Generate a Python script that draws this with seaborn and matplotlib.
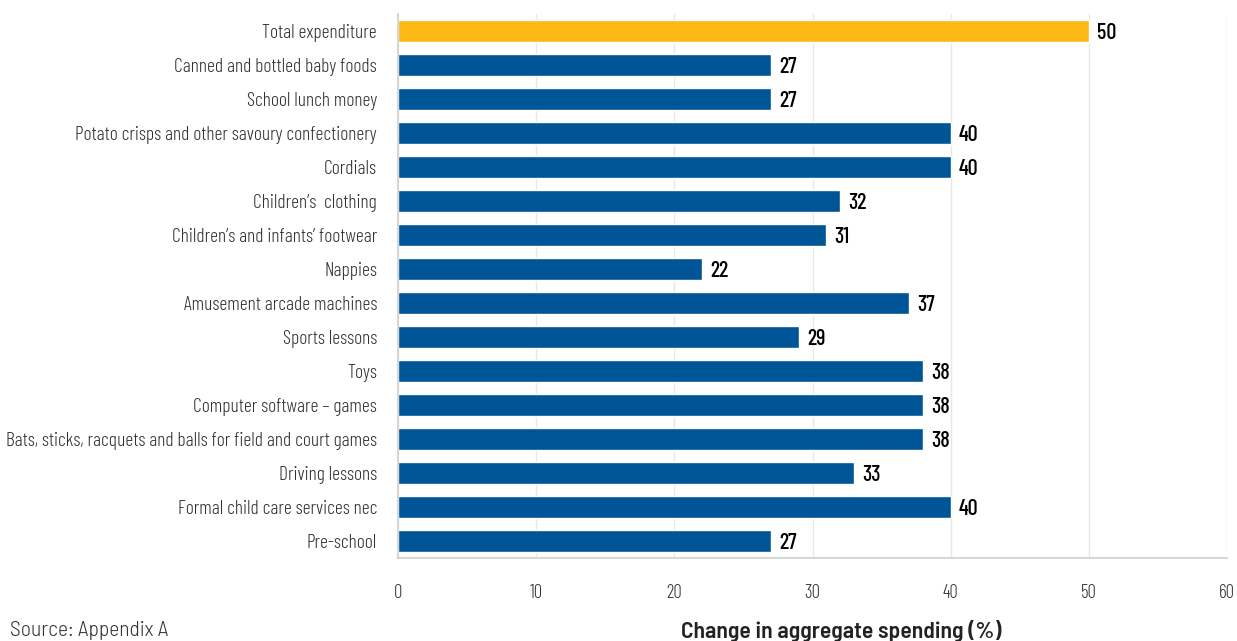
import matplotlib
matplotlib.use("Agg")
import matplotlib.pyplot as plt
import seaborn as sns
import pandas as pd

# data
categories = [
    "Total expenditure",
    "Canned and bottled baby foods",
    "School lunch money",
    "Potato crisps and other savoury confectionery",
    "Cordials",
    "Children’s  clothing",
    "Children’s and infants’ footwear",
    "Nappies",
    "Amusement arcade machines",
    "Sports lessons",
    "Toys",
    "Computer software – games",
    "Bats, sticks, racquets and balls for field and court games",
    "Driving lessons",
    "Formal child care services nec",
    "Pre-school",
]
values = [50, 27, 27, 40, 40, 32, 31, 22, 37, 29, 38, 38, 38, 33, 40, 27]
x_ticks = [0, 10, 20, 30, 40, 50, 60]

colors = ["#FDB913"] + ["#005596"] * (len(categories) - 1)

df = pd.DataFrame({"category": categories, "change": values})

sns.set_style("white")
plt.rcParams["font.family"] = ["Barlow Condensed", "DejaVu Sans"]

fig = plt.figure(figsize=(12.37, 6.41), dpi=100)
ax = fig.add_axes([0.3217, 0.1295, 0.6703, 0.8485])

sns.barplot(data=df, x="change", y="category", hue="category",
            palette=colors, legend=False, width=0.65, saturation=1, ax=ax)

# value labels
for i, v in enumerate(values):
    ax.text(v + 0.6, i + 0.06, str(v), va="center", ha="left",
            fontsize=16, fontweight=500, color="black")

ax.set_xlim(0, 60)
ax.set_xticks(x_ticks)
ax.set_ylim(len(categories) - 0.5, -0.5)
ax.grid(axis="x", color="#E8E8E8", linewidth=1)
ax.set_axisbelow(True)
for s in ["top", "right"]:
    ax.spines[s].set_visible(False)
for s in ["left", "bottom"]:
    ax.spines[s].set_color("#D0D0D0")
    ax.spines[s].set_linewidth(1.2)

ax.tick_params(axis="x", length=0, pad=19, labelsize=13.5, labelcolor="#333333")
ax.tick_params(axis="y", length=0, pad=15, labelsize=14.1, labelcolor="#333333")
for lab in ax.get_xticklabels() + ax.get_yticklabels():
    lab.set_fontweight(300)
ax.set_ylabel("")
ax.set_xlabel("")

fig.text(0.68, 0.016, "Change in aggregate spending (%)", ha="center", va="center",
         fontsize=17, fontweight=600, color="#222222",
         family=["Barlow Semi Condensed", "DejaVu Sans"])
fig.text(0.008, 0.016, "Source: Appendix A", ha="left", va="center",
         fontsize=15.5, fontweight=300, color="#333333",
         family=["Barlow Semi Condensed", "DejaVu Sans"])

fig.savefig("out.png", dpi=100)
